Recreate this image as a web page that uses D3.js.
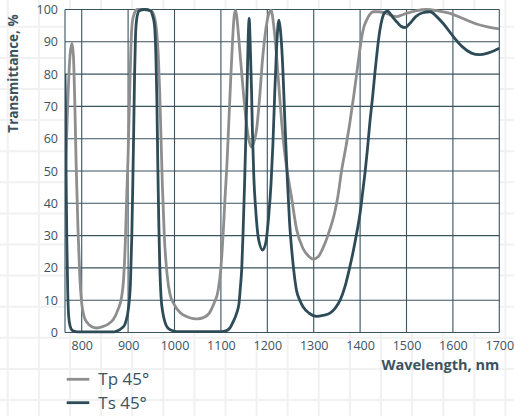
<!DOCTYPE html>
<html>
<head>
<meta charset="utf-8">
<script src="https://cdn.jsdelivr.net/npm/d3@7"></script>
<style>
  body { margin: 0; background: #fff; }
  svg { display: block; }
  text { font-family: "Open Sans", sans-serif; }
</style>
</head>
<body>
<div id="chart"></div>
<script>
'use strict';

// Tp 45° (grey)
var tpWl = [764, 767, 771, 775, 779, 782, 785, 788, 792, 796, 800, 805, 812, 822, 832, 845, 858, 868, 878, 886, 890, 894, 897, 900, 903, 906, 909, 914, 920, 935, 950, 956, 961, 965, 968, 971, 974, 978, 984, 990, 1000, 1012, 1025, 1040, 1050, 1062, 1075, 1085, 1094, 1100, 1105, 1109, 1113, 1117, 1121, 1125, 1128, 1131, 1134, 1138, 1142, 1148, 1154, 1160, 1165, 1170, 1177, 1183, 1190, 1196, 1202, 1208, 1213, 1218, 1224, 1231, 1238, 1245, 1252, 1263, 1277, 1290, 1299, 1310, 1324, 1335, 1345, 1352, 1360, 1370, 1378, 1386, 1393, 1398, 1403, 1408, 1414, 1421, 1428, 1440, 1457, 1470, 1479, 1490, 1500, 1520, 1543, 1570, 1594, 1620, 1651, 1675, 1700];
var tpT  = [46, 58, 75, 86, 89.5, 86, 72, 52, 32, 17, 9, 5, 3, 1.8, 1.4, 1.8, 2.7, 4, 7, 11, 16, 28, 42, 55, 72, 88, 96, 99, 100, 100, 99.6, 98, 94, 86, 75, 60, 45, 30, 18, 12, 8.5, 6.2, 5, 4.3, 4.2, 4.6, 6, 9, 13, 20, 31, 42, 52, 65, 78, 90, 97, 99.8, 98, 92, 85, 75, 66, 60, 57.5, 58.5, 63, 72, 85, 93, 98, 99.8, 96, 89, 78, 65, 55, 48, 42, 32, 26, 23.5, 22.7, 23.5, 27.5, 32, 37, 42, 50, 58, 65, 73, 80.5, 86, 91, 94.5, 96.7, 98.5, 99.3, 99.3, 98.8, 98, 97.8, 98.3, 98.8, 99.6, 100, 99.5, 98.8, 97.3, 95.5, 94.6, 94];

// Ts 45° (dark)
var tsWl = [764, 765, 766, 767, 768, 770, 772, 775, 780, 790, 830, 870, 878, 886, 893, 898, 902, 905, 908, 910, 912, 914, 916, 919, 924, 935, 948, 953, 957, 960, 962, 964, 966, 968, 971, 975, 980, 985, 995, 1005, 1050, 1100, 1112, 1120, 1127, 1134, 1139, 1142, 1145, 1148, 1151, 1154, 1157, 1159, 1161, 1163, 1166, 1168, 1171, 1175, 1181, 1190, 1197, 1203, 1208, 1212, 1216, 1220, 1223, 1225, 1228, 1232, 1238, 1243, 1248, 1253, 1258, 1263, 1270, 1277, 1290, 1306, 1320, 1335, 1346, 1357, 1368, 1378, 1385, 1393, 1400, 1406, 1411, 1416, 1421, 1427, 1432, 1436, 1440, 1445, 1450, 1455, 1460, 1466, 1472, 1479, 1488, 1497, 1506, 1520, 1535, 1551, 1565, 1580, 1601, 1620, 1640, 1657, 1675, 1690, 1700];
var tsT  = [80, 70, 55, 40, 28, 12, 5, 2, 0.6, 0.2, 0.2, 0.2, 0.6, 1.3, 2.5, 5, 9, 15, 30, 45, 62, 80, 92, 97.5, 99.6, 100, 99.6, 98, 95, 85, 72, 52, 35, 22, 11, 6, 3, 1.5, 0.6, 0.3, 0.3, 0.3, 0.6, 1.5, 3.5, 6, 9, 14, 20, 32, 46, 62, 80, 92, 97.3, 90, 75, 62, 48, 38, 29, 25.5, 28, 36, 46, 58, 74, 88, 95, 96.7, 94, 86, 65, 48, 34, 25, 18, 13, 10, 8, 6, 5, 5.3, 6, 7.5, 10, 14.5, 20.4, 25, 31, 37, 44, 50, 57, 65, 73, 80.5, 86, 91, 95.5, 98.3, 99.3, 99.5, 98.5, 97.3, 96.2, 94.8, 94.4, 95.5, 97.8, 99, 99.3, 97.8, 95.5, 91.6, 88.5, 86.5, 86, 86.5, 87.3, 88];

var xTicks = [800, 900, 1000, 1100, 1200, 1300, 1400, 1500, 1600, 1700];
var yTicks = [0, 10, 20, 30, 40, 50, 60, 70, 80, 90, 100];
var seriesNames = ['Tp 45°', 'Ts 45°'];
var seriesColors = ['#8e8e8e', '#2e4b58'];

var width = 514, height = 416;
var margin = {top: 9.5, right: 14.7, bottom: 83.5, left: 65};
var textColor = '#3b5260';
var gridColor = '#3a5361';

var svg = d3.select('#chart')
    .append('svg')
        .attr('width', width)
        .attr('height', height);

// faint graph-paper background
var bg = svg.append('g');
bg.selectAll('line.bgv')
    .data(d3.range(7.8, width, 31.1))
    .enter().append('line')
    .attr('x1', d => d).attr('x2', d => d)
    .attr('y1', 0).attr('y2', height)
    .style('stroke', '#f1f1f1').style('stroke-width', 2);
bg.selectAll('line.bgh')
    .data(d3.range(26.8, height, 31.1))
    .enter().append('line')
    .attr('y1', d => d).attr('y2', d => d)
    .attr('x1', 0).attr('x2', width)
    .style('stroke', '#f1f1f1').style('stroke-width', 2);

var x = d3.scaleLinear().domain([764, 1700]).range([margin.left, width - margin.right]);
var y = d3.scaleLinear().domain([0, 100]).range([height - margin.bottom, margin.top]);

svg.append('rect')
    .attr('x', x.range()[0]).attr('y', y.range()[1])
    .attr('width', x.range()[1] - x.range()[0])
    .attr('height', y.range()[0] - y.range()[1])
    .style('fill', '#fff');

// grid
svg.selectAll('line.gy')
    .data(yTicks)
    .enter().append('line')
    .attr('x1', x.range()[0]).attr('x2', x.range()[1])
    .attr('y1', d => y(d)).attr('y2', d => y(d))
    .style('stroke', gridColor).style('stroke-width', 1.1);
svg.selectAll('line.gx')
    .data([764].concat(xTicks))
    .enter().append('line')
    .attr('x1', d => x(d)).attr('x2', d => x(d))
    .attr('y1', y(0)).attr('y2', y(100))
    .style('stroke', gridColor).style('stroke-width', 1.1);

// axes labels
var yAxis = d3.axisLeft(y).tickValues(yTicks).tickFormat(d3.format('d')).tickSize(0).tickPadding(7);
var gy = svg.append('g')
    .attr('transform', 'translate(' + margin.left + ',0)')
    .call(yAxis);
gy.select('.domain').remove();
gy.selectAll('text')
    .style('font-size', '12.5px').style('fill', textColor);

var xAxis = d3.axisBottom(x).tickValues(xTicks).tickFormat(d3.format('d')).tickSize(0).tickPadding(9);
var gx = svg.append('g')
    .attr('transform', 'translate(0,' + y(0) + ')')
    .call(xAxis);
gx.select('.domain').remove();
gx.selectAll('text')
    .style('font-size', '12.5px').style('fill', textColor);

svg.append('text')
    .attr('x', x.range()[1]).attr('y', 370)
    .attr('text-anchor', 'end')
    .style('font-size', '14.5px').style('font-weight', 'bold').style('fill', textColor)
    .text('Wavelength, nm');

svg.append('text')
    .attr('transform', 'translate(18,73.5) rotate(-90)')
    .attr('text-anchor', 'middle')
    .style('font-size', '13.5px').style('font-weight', 'bold').style('fill', textColor)
    .text('Transmittance, %');

// curves
svg.append('clipPath').attr('id', 'clip')
    .append('rect')
    .attr('x', x.range()[0]).attr('y', y.range()[1] - 2)
    .attr('width', x.range()[1] - x.range()[0])
    .attr('height', y.range()[0] - y.range()[1] + 4);

var line = d3.line()
    .x(d => x(d[0]))
    .y(d => y(d[1]))
    .curve(d3.curveMonotoneX);

var series = [d3.zip(tpWl, tpT), d3.zip(tsWl, tsT)];
svg.append('g').attr('clip-path', 'url(#clip)')
    .selectAll('path')
    .data(series)
    .enter().append('path')
    .attr('d', line)
    .style('fill', 'none')
    .style('stroke', (d, i) => seriesColors[i])
    .style('stroke-width', 2.8)
    .style('stroke-linejoin', 'round');

// legend
var legend = svg.selectAll('g.legend')
    .data(seriesNames)
    .enter().append('g')
    .attr('transform', (d, i) => 'translate(66.7,' + (379.3 + i * 23.4) + ')');
legend.append('line')
    .attr('x1', 0).attr('x2', 22.6)
    .style('stroke', (d, i) => seriesColors[i])
    .style('stroke-width', 2.8);
legend.append('text')
    .attr('x', 31.6).attr('y', 6)
    .style('font-size', '17px').style('fill', textColor)
    .text(d => d);
</script>
</body>
</html>
